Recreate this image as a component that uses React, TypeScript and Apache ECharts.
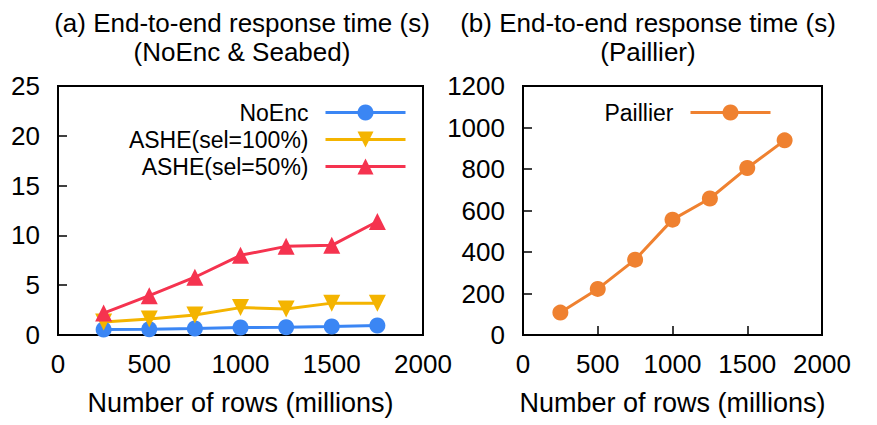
import { useEffect, useRef } from 'react';
import * as echarts from 'echarts';

const rows = [250, 500, 750, 1000, 1250, 1500, 1750];
const noEnc = [0.55, 0.58, 0.65, 0.75, 0.78, 0.85, 0.95];
const ashe100 = [1.3, 1.6, 2.0, 2.75, 2.6, 3.2, 3.2];
const ashe50 = [2.2, 3.95, 5.8, 8.0, 8.9, 9.0, 11.4];
const paillier = [108, 222, 363, 556, 658, 805, 938];

const titleA = ['(a) End-to-end response time (s)', '(NoEnc & Seabed)'];
const titleB = ['(b) End-to-end response time (s)', '(Paillier)'];
const xName = 'Number of rows (millions)';

const FONT = '"Liberation Sans", Arial, Helvetica, sans-serif';
const BLUE = '#3b86f4';
const YELLOW = '#f4b400';
const RED = '#f5334f';
const ORANGE = '#ef8130';
const DOWN_TRI = 'path://M0,0 L10,0 L5,9 Z';

const pairs = (ys: number[]) => rows.map((x, i) => [x, ys[i]]);

export default function App() {
  const ref = useRef<HTMLDivElement>(null);
  useEffect(() => {
    if (!ref.current) return;
    const chart = echarts.init(ref.current, undefined, { renderer: 'svg' });
    const axisLabel = { color: '#000', fontSize: 26, fontFamily: FONT, margin: 16, formatter: (v: number) => String(v) };
    const xAxisBase = (gridIndex: number) => ({
      type: 'value' as const,
      gridIndex,
      min: 0,
      max: 2000,
      interval: 500,
      name: xName,
      nameLocation: 'middle' as const,
      nameGap: 54,
      nameTextStyle: { color: '#000', fontSize: 27, fontFamily: FONT },
      axisLine: { show: false },
      axisTick: { show: true, inside: true, length: 9, lineStyle: { color: '#000', width: 1.5 } },
      axisLabel: { ...axisLabel },
      splitLine: { show: false },
    });
    const yAxisBase = (gridIndex: number, max: number, interval: number) => ({
      type: 'value' as const,
      gridIndex,
      min: 0,
      max,
      interval,
      axisLine: { show: false },
      axisTick: { show: true, inside: true, length: 9, lineStyle: { color: '#000', width: 1.5 } },
      axisLabel: { ...axisLabel, margin: 18 },
      splitLine: { show: false },
    });
    const lineSeries = (name: string, data: number[], color: string, symbol: string, size: number, xi: number) => ({
      type: 'line' as const,
      name,
      xAxisIndex: xi,
      yAxisIndex: xi,
      data: pairs(data),
      symbol,
      symbolSize: size,
      showSymbol: true,
      lineStyle: { color, width: 3 },
      itemStyle: { color },
      z: 3,
    });
    const legendText = { color: '#000', fontSize: 23, lineHeight: 20, fontFamily: FONT, padding: [0, 12, 0, 0] };
    chart.setOption({
      animation: false,
      backgroundColor: '#fff',
      grid: [
        { left: 58, top: 86, width: 365, height: 249, show: true, borderColor: '#000', borderWidth: 2, backgroundColor: 'transparent' },
        { left: 523, top: 86, width: 299, height: 249, show: true, borderColor: '#000', borderWidth: 2, backgroundColor: 'transparent' },
      ],
      xAxis: [xAxisBase(0), xAxisBase(1)],
      yAxis: [yAxisBase(0, 25, 5), yAxisBase(1, 1200, 200)],
      legend: [
        {
          orient: 'vertical',
          align: 'right',
          right: 470,
          top: 101,
          padding: 0,
          itemWidth: 80,
          itemHeight: 20,
          itemGap: 4,
          data: ['NoEnc', 'ASHE(sel=100%)', 'ASHE(sel=50%)'],
          textStyle: legendText,
          lineStyle: { width: 3 },
        },
        {
          orient: 'vertical',
          align: 'right',
          right: 105,
          top: 101,
          padding: 0,
          itemWidth: 80,
          itemHeight: 20,
          itemGap: 4,
          data: ['Paillier'],
          textStyle: legendText,
          lineStyle: { width: 3 },
        },
      ],
      graphic: [
        {
          type: 'text',
          x: 242,
          y: 8,
          style: { text: titleA.join('\n'), align: 'center', verticalAlign: 'top', fontSize: 26, fontFamily: FONT, lineHeight: 29, fill: '#000' },
        },
        {
          type: 'text',
          x: 648,
          y: 8,
          style: { text: titleB.join('\n'), align: 'center', verticalAlign: 'top', fontSize: 26, fontFamily: FONT, lineHeight: 29, fill: '#000' },
        },
      ],
      series: [
        lineSeries('NoEnc', noEnc, BLUE, 'circle', 16, 0),
        lineSeries('ASHE(sel=100%)', ashe100, YELLOW, DOWN_TRI, 17, 0),
        lineSeries('ASHE(sel=50%)', ashe50, RED, 'triangle', 17, 0),
        lineSeries('Paillier', paillier, ORANGE, 'circle', 16, 1),
      ],
    });
    return () => chart.dispose();
  }, []);
  return <div ref={ref} style={{ position: 'absolute', left: 0, top: 0, width: 877, height: 425 }} />;
}
